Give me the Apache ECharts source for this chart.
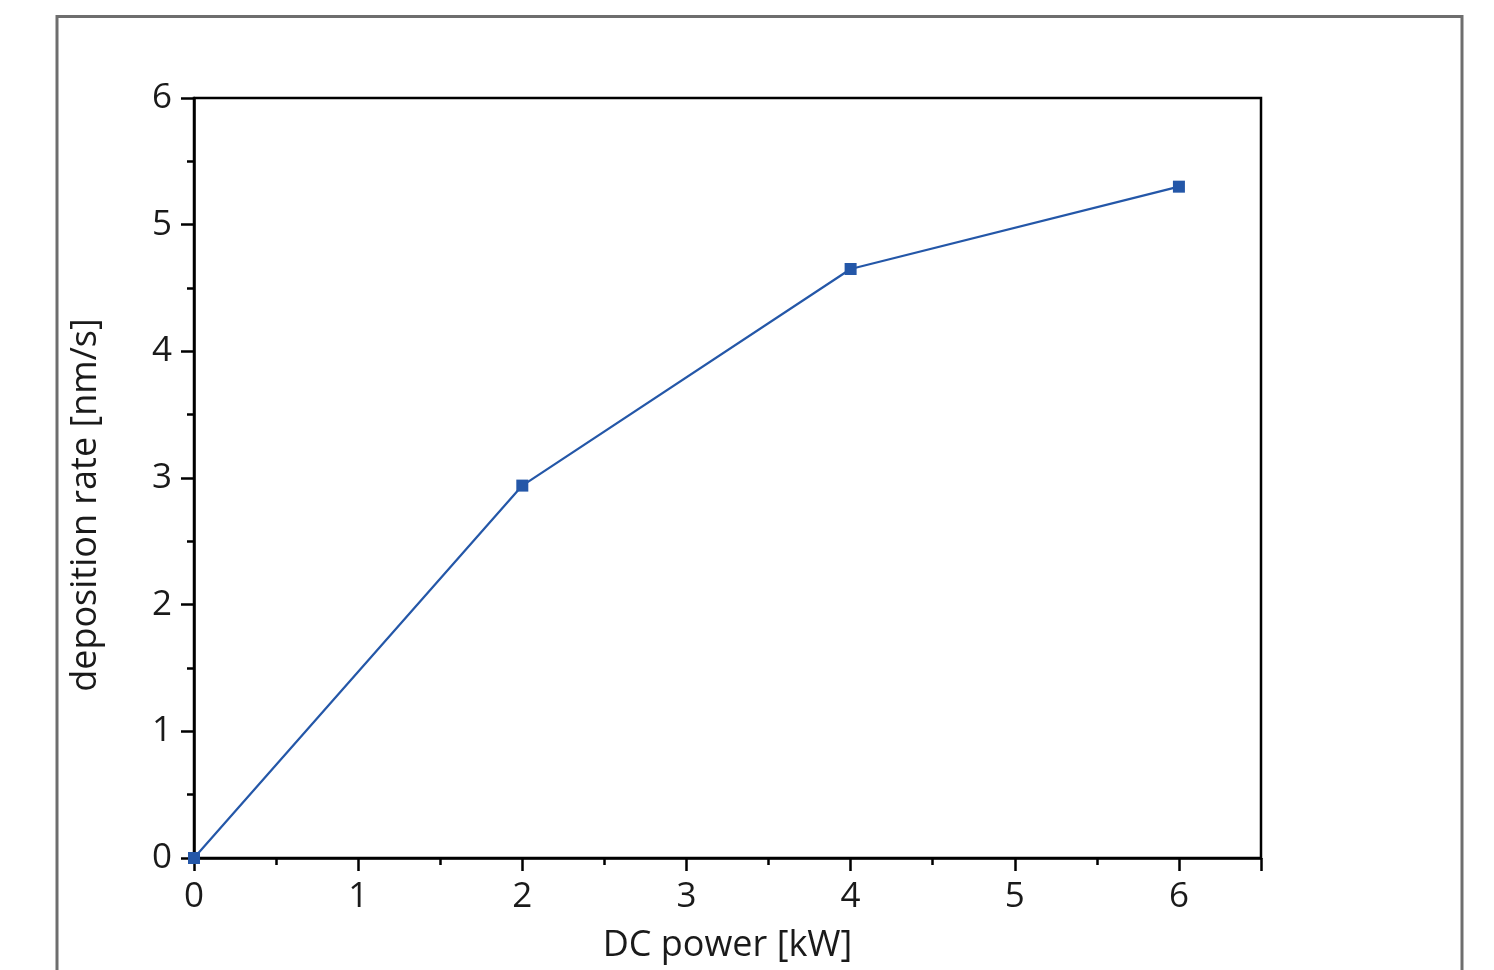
<!DOCTYPE html>
<html>
<head>
<meta charset="utf-8">
<script src="https://cdn.jsdelivr.net/npm/echarts@6/dist/echarts.min.js"></script>
<style>
  html, body { margin: 0; padding: 0; background: #fff; }
  #chart { width: 1494px; height: 970px; }
</style>
</head>
<body>
<div id="chart"></div>
<script>
// DC power [kW] vs. deposition rate [nm/s]
const powerKW = [0, 2, 4, 6];
const rateNmS = [0, 2.94, 4.65, 5.30];

const xTicks = [0, 1, 2, 3, 4, 5, 6];
const yTicks = [0, 1, 2, 3, 4, 5, 6];

const font = '"Open Sans", "Noto Sans", sans-serif';
const textColor = '#1a1a1a';

const chart = echarts.init(document.getElementById('chart'), null, { renderer: 'canvas' });

chart.setOption({
  backgroundColor: '#ffffff',
  animation: false,
  graphic: [{
    type: 'rect',
    shape: { x: 57, y: 16.5, width: 1405, height: 1000 },
    style: { fill: 'none', stroke: '#6e6e6e', lineWidth: 3 },
    silent: true
  }],
  grid: {
    left: 194, top: 98, width: 1067, height: 760,
    show: true, borderColor: '#000', borderWidth: 2.5, backgroundColor: 'transparent'
  },
  xAxis: {
    type: 'value',
    min: 0, max: 6.5, interval: 1,
    name: 'DC power [kW]',
    nameLocation: 'middle',
    nameGap: 70,
    nameTextStyle: { fontFamily: font, fontSize: 36, color: textColor, fontWeight: 400 },
    axisLine: { show: true, onZero: false, lineStyle: { color: '#000', width: 2.5 } },
    axisTick: { show: true, inside: false, length: 13, lineStyle: { color: '#000', width: 2.5 } },
    minorTick: { show: true, splitNumber: 2, length: 7, lineStyle: { color: '#000', width: 2.5 } },
    splitLine: { show: false },
    axisLabel: {
      margin: 22,
      fontFamily: font, fontSize: 35, color: textColor, fontWeight: 400,
      formatter: v => (xTicks.includes(v) ? String(v) : '')
    }
  },
  yAxis: {
    type: 'value',
    min: 0, max: 6, interval: 1,
    name: 'deposition rate [nm/s]',
    nameLocation: 'middle',
    nameGap: 90,
    nameTextStyle: {
      fontFamily: font, fontSize: 36, color: textColor, fontWeight: 400,
      padding: [0, 54, 0, 0]
    },
    axisLine: { show: true, onZero: false, lineStyle: { color: '#000', width: 2.5 } },
    axisTick: { show: true, inside: false, length: 13, lineStyle: { color: '#000', width: 2.5 } },
    minorTick: { show: true, splitNumber: 2, length: 7, lineStyle: { color: '#000', width: 2.5 } },
    splitLine: { show: false },
    axisLabel: {
      margin: 22,
      fontFamily: font, fontSize: 35, color: textColor, fontWeight: 400,
      formatter: v => (yTicks.includes(v) ? String(v) : '')
    }
  },
  series: [{
    type: 'line',
    data: powerKW.map((p, i) => [p, rateNmS[i]]),
    symbol: 'rect',
    symbolSize: 12,
    showAllSymbol: true,
    clip: false,
    lineStyle: { color: '#2457a8', width: 2.2 },
    itemStyle: { color: '#2457a8' }
  }]
});
</script>
</body>
</html>
